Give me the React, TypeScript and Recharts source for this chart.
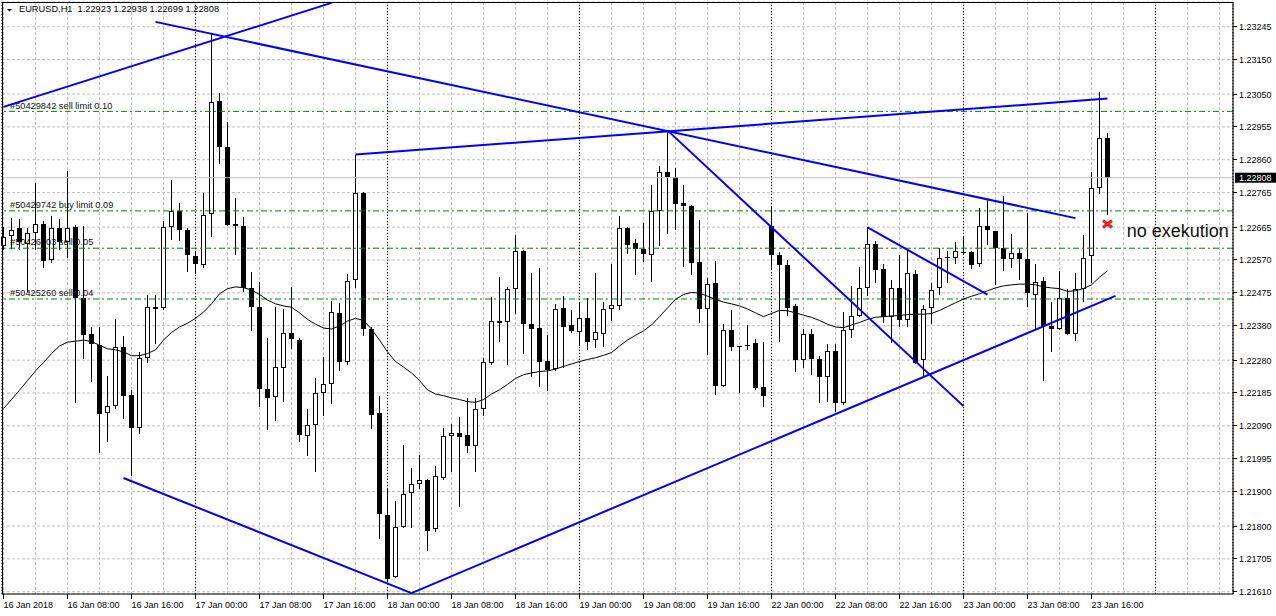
import React from "react";
import {
  ComposedChart,
  Bar,
  Line,
  XAxis,
  YAxis,
  CartesianGrid,
  ReferenceLine,
  ReferenceDot,
} from "recharts";

// EURUSD H1, one bar per hour from 16 Jan 2018 00:00 (index 0) to 23 Jan 18:00 (index 138)
const opens = [
  1.22611, 1.22638, 1.22662, 1.22616, 1.22647, 1.22674, 1.22571, 1.22662, 1.22623, 1.22666,
  1.22459, 1.22356, 1.22324, 1.22127, 1.22147, 1.22318, 1.2218, 1.22083, 1.22285, 1.22435,
  1.2243, 1.22665, 1.22712, 1.22656, 1.22581, 1.22555, 1.22703, 1.23029, 1.22898, 1.22674,
  1.22667, 1.2249, 1.22435, 1.22196, 1.22173, 1.22256, 1.2236, 1.22339, 1.22061, 1.22091,
  1.22185, 1.22211, 1.22417, 1.22276, 1.22511, 1.22764, 1.2237, 1.22127, 1.21832, 1.21653,
  1.21797, 1.21895, 1.21923, 1.21933, 1.21792, 1.21939, 1.22061, 1.22068, 1.22063, 1.22033,
  1.22138, 1.22273, 1.22393, 1.2239, 1.22485, 1.22597, 1.22384, 1.22373, 1.22279, 1.22254,
  1.22431, 1.22382, 1.22362, 1.22401, 1.22338, 1.22357, 1.22428, 1.22437, 1.22662, 1.2262,
  1.22603, 1.22584, 1.22711, 1.22824, 1.2281, 1.22734, 1.22727, 1.22564, 1.22428, 1.22503,
  1.22205, 1.22368, 1.22321, 1.22324, 1.2233, 1.22202, 1.22669, 1.22584, 1.22555, 1.22437,
  1.2228, 1.22357, 1.22282, 1.2223, 1.22307, 1.22155, 1.22368, 1.22409, 1.2249, 1.22617,
  1.22544, 1.22406, 1.22489, 1.22395, 1.22529, 1.2228, 1.22431, 1.22489, 1.22578, 1.22577,
  1.22594, 1.22592, 1.22557, 1.22667, 1.22653, 1.22605, 1.22572, 1.2259, 1.22572, 1.2247,
  1.22509, 1.22378, 1.2237, 1.22459, 1.22357, 1.22487, 1.22581, 1.22778, 1.22923,
];
const highs = [
  1.22666, 1.22691, 1.22688, 1.22662, 1.22792, 1.22684, 1.22698, 1.22688, 1.22827, 1.22671,
  1.22669, 1.22376, 1.22376, 1.22234, 1.22398, 1.22351, 1.22194, 1.22304, 1.22468, 1.2247,
  1.22684, 1.22802, 1.22736, 1.22662, 1.22592, 1.22764, 1.23223, 1.23053, 1.22968, 1.22749,
  1.22695, 1.22534, 1.22506, 1.22345, 1.22433, 1.22428, 1.22492, 1.22345, 1.22138, 1.22227,
  1.2229, 1.22451, 1.22445, 1.22528, 1.22875, 1.22768, 1.22376, 1.22175, 1.21909, 1.21872,
  1.22035, 1.21967, 1.22006, 1.21936, 1.21974, 1.22083, 1.22094, 1.22116, 1.22171, 1.22171,
  1.22287, 1.22463, 1.2252, 1.22492, 1.22642, 1.226, 1.22533, 1.22548, 1.22354, 1.22443,
  1.22465, 1.22426, 1.22448, 1.22459, 1.22533, 1.22448, 1.22559, 1.22697, 1.22664, 1.22631,
  1.22677, 1.22788, 1.22843, 1.22946, 1.22835, 1.22788, 1.22729, 1.22686, 1.22518, 1.22566,
  1.22384, 1.22426, 1.22322, 1.22382, 1.22341, 1.22334, 1.22725, 1.22592, 1.2257, 1.22443,
  1.2237, 1.2237, 1.22293, 1.22326, 1.22326, 1.2242, 1.22495, 1.2255, 1.22664, 1.22625,
  1.22559, 1.22512, 1.22583, 1.22601, 1.22542, 1.22439, 1.22503, 1.22605, 1.22595, 1.22623,
  1.22638, 1.22595, 1.22719, 1.22747, 1.22655, 1.22755, 1.22645, 1.22603, 1.22706, 1.22559,
  1.2252, 1.22448, 1.22539, 1.22487, 1.22531, 1.22642, 1.22824, 1.23057, 1.22938,
];
const lows = [
  1.22599, 1.22603, 1.22599, 1.22477, 1.22599, 1.22546, 1.2256, 1.22599, 1.22575, 1.22155,
  1.22282, 1.22216, 1.22011, 1.22042, 1.22138, 1.22111, 1.21945, 1.22066, 1.22271, 1.22327,
  1.22424, 1.22628, 1.22625, 1.22534, 1.22528, 1.22548, 1.22636, 1.22847, 1.22669, 1.22583,
  1.22476, 1.22365, 1.22144, 1.22077, 1.22105, 1.22158, 1.22313, 1.22044, 1.22003, 1.21956,
  1.22118, 1.22153, 1.22249, 1.22265, 1.2249, 1.22349, 1.22081, 1.21762, 1.2164, 1.21651,
  1.21795, 1.21795, 1.21906, 1.21727, 1.21784, 1.21933, 1.21956, 1.21856, 1.22011, 1.21956,
  1.22118, 1.22265, 1.22334, 1.22265, 1.22413, 1.22299, 1.22232, 1.22201, 1.22191, 1.22249,
  1.22258, 1.22359, 1.22321, 1.2231, 1.22315, 1.22318, 1.22393, 1.22426, 1.22586, 1.22526,
  1.22564, 1.22507, 1.22611, 1.22644, 1.22658, 1.22551, 1.22526, 1.22387, 1.22296, 1.22179,
  1.22201, 1.22307, 1.22185, 1.2231, 1.22193, 1.22144, 1.22542, 1.22332, 1.22409, 1.22245,
  1.22258, 1.22238, 1.22155, 1.2216, 1.22129, 1.22149, 1.22343, 1.22404, 1.22467, 1.22503,
  1.22387, 1.22329, 1.22376, 1.22376, 1.22269, 1.22234, 1.22384, 1.22468, 1.22503, 1.22559,
  1.22583, 1.22544, 1.22551, 1.22614, 1.22498, 1.22539, 1.22548, 1.22511, 1.22433, 1.2237,
  1.22221, 1.22304, 1.22368, 1.22354, 1.22335, 1.22448, 1.22503, 1.22761, 1.22699,
];
const closes = [
  1.22637, 1.22658, 1.22623, 1.22649, 1.22673, 1.22568, 1.22662, 1.22623, 1.22662, 1.22459,
  1.22352, 1.22326, 1.22124, 1.22147, 1.22318, 1.22177, 1.22083, 1.22285, 1.22434, 1.22428,
  1.22665, 1.22712, 1.22658, 1.22584, 1.22557, 1.22699, 1.23026, 1.22898, 1.22671, 1.22667,
  1.2249, 1.22434, 1.22196, 1.22171, 1.2226, 1.2236, 1.22341, 1.22063, 1.22091, 1.22186,
  1.22211, 1.2242, 1.22276, 1.22509, 1.22764, 1.22371, 1.22122, 1.21834, 1.21646, 1.21797,
  1.21893, 1.21923, 1.21933, 1.21787, 1.21945, 1.22061, 1.22068, 1.22057, 1.22033, 1.22138,
  1.22274, 1.22393, 1.22387, 1.22485, 1.22597, 1.22384, 1.22371, 1.22276, 1.22251, 1.22428,
  1.22376, 1.22364, 1.22401, 1.22334, 1.22362, 1.22428, 1.22439, 1.22662, 1.22614, 1.22601,
  1.22586, 1.22711, 1.22824, 1.2281, 1.22733, 1.22725, 1.22562, 1.22428, 1.225, 1.22205,
  1.22368, 1.22318, 1.22319, 1.22321, 1.22199, 1.22177, 1.22584, 1.22555, 1.22431, 1.2228,
  1.22357, 1.22282, 1.2223, 1.22307, 1.22155, 1.22368, 1.22409, 1.22489, 1.22617, 1.22542,
  1.22404, 1.22489, 1.22395, 1.22533, 1.22273, 1.22428, 1.22484, 1.22575, 1.22576, 1.22595,
  1.22593, 1.22555, 1.22667, 1.22656, 1.22606, 1.22572, 1.22589, 1.22572, 1.22474, 1.22506,
  1.22378, 1.2237, 1.22459, 1.22356, 1.22487, 1.22577, 1.22778, 1.22923, 1.22808,
];
// moving average
const maValues = [
  1.2214, 1.22166, 1.22193, 1.22221, 1.22249, 1.22273, 1.22299, 1.22321, 1.22332, 1.22335,
  1.22338, 1.22334, 1.22323, 1.22313, 1.2231, 1.22304, 1.22293, 1.22293, 1.22299, 1.2231,
  1.22338, 1.2236, 1.22376, 1.22387, 1.22401, 1.22419, 1.22443, 1.22472, 1.22487, 1.22492,
  1.2249, 1.22483, 1.2247, 1.22454, 1.22443, 1.22437, 1.22433, 1.22417, 1.22398, 1.22384,
  1.22373, 1.2237, 1.22379, 1.22393, 1.22401, 1.22395, 1.2237, 1.22338, 1.22304, 1.22276,
  1.2226, 1.22243, 1.22221, 1.22194, 1.22182, 1.22177, 1.22171, 1.22166, 1.2216, 1.22158,
  1.22166, 1.22182, 1.22194, 1.2221, 1.22227, 1.22238, 1.22243, 1.22247, 1.22249, 1.22254,
  1.22262, 1.22269, 1.22276, 1.22282, 1.22287, 1.22294, 1.22302, 1.22321, 1.22338, 1.22352,
  1.22365, 1.22382, 1.22406, 1.22431, 1.22456, 1.2247, 1.22476, 1.22474, 1.22465, 1.22456,
  1.22448, 1.22443, 1.22437, 1.22428, 1.22417, 1.22406, 1.22415, 1.22424, 1.22423, 1.22417,
  1.2241, 1.22404, 1.22395, 1.22384, 1.22376, 1.22374, 1.22382, 1.22389, 1.22398, 1.22404,
  1.22406, 1.22408, 1.22409, 1.22412, 1.22413, 1.22413, 1.22415, 1.22424, 1.22435, 1.22446,
  1.22457, 1.22465, 1.22472, 1.22481, 1.22489, 1.22495, 1.22498, 1.225, 1.225, 1.22498,
  1.22492, 1.22489, 1.22487, 1.22479, 1.22481, 1.22487, 1.22498, 1.2252, 1.22539,
];

const slotCount = 154; // visible hour slots incl. empty space on the right

const timeTickIdx = [0, 8, 16, 24, 32, 40, 48, 56, 64, 72, 80, 88, 96, 104, 112, 120, 128, 136];
const timeTickLabels = [
  "16 Jan 2018", "16 Jan 08:00", "16 Jan 16:00", "17 Jan 00:00", "17 Jan 08:00", "17 Jan 16:00",
  "18 Jan 00:00", "18 Jan 08:00", "18 Jan 16:00", "19 Jan 00:00", "19 Jan 08:00", "19 Jan 16:00",
  "22 Jan 00:00", "22 Jan 08:00", "22 Jan 16:00", "23 Jan 00:00", "23 Jan 08:00", "23 Jan 16:00",
];
// vertical grid every 4 hours
const gridTicks = [
  0, 4, 8, 12, 16, 20, 24, 28, 32, 36, 40, 44, 48, 52, 56, 60, 64, 68, 72, 76, 80, 84, 88, 92,
  96, 100, 104, 108, 112, 116, 120, 124, 128, 132, 136, 140, 144, 148, 152,
];
const daySeparators = [24, 48, 72, 96, 120, 144];
const priceTicks = [
  1.23245, 1.2315, 1.2305, 1.22955, 1.2286, 1.22765, 1.22665, 1.2257, 1.22475, 1.2238, 1.2228,
  1.22185, 1.2209, 1.21995, 1.219, 1.218, 1.21705, 1.2161,
];
const priceDomain = [1.216033, 1.233165];

const orderPrices = [1.23, 1.22712, 1.22604, 1.22457];
const orderTexts = [
  "#50429842 sell limit 0.10",
  "#50429742 buy limit 0.09",
  "#50426003 sell 0.05",
  "#50425260 sell 0.04",
];
const lastPrice = 1.22808;

// [bar1, price1, bar2, price2]
const trendLines = [
  [0, 1.23013, 41, 1.23314],
  [19, 1.23259, 134, 1.22691],
  [44, 1.22875, 138, 1.23037],
  [83, 1.22945, 120, 1.22147],
  [15, 1.21939, 51, 1.21606],
  [51, 1.21606, 139, 1.22466],
  [108, 1.22664, 123, 1.2247],
];
const markBar = 138;
const markPrice = 1.22674;
const noteBar = 140;
const notePrice = 1.22636;
const noteText = "no exekution";

const rows = Array.from({ length: slotCount }, (_, i) => ({
  i,
  o: i < opens.length ? opens[i] : null,
  h: i < highs.length ? highs[i] : null,
  l: i < lows.length ? lows[i] : null,
  c: i < closes.length ? closes[i] : null,
  ma: i < maValues.length ? maValues[i] : null,
}));

const FONT = '"Liberation Sans", Arial, sans-serif';
const PLOT_LEFT = 2;
const PLOT_TOP = 2;
const PLOT_RIGHT = 1233;
const PLOT_BOTTOM = 594;
const BLUE = "#0000ff";
const ORDER_GREEN = "#008000";
const GRID = "#c0c0c0";
const BAND_PAD = { left: -2.5, right: 1.5 };

const Candle = (props: any) => {
  const { x, y, width, height, payload } = props;
  if (!payload || payload.h == null) return null;
  const top = Math.min(y, y + height);
  const bot = Math.max(y, y + height);
  const span = payload.h - payload.l;
  const py = (p: number) => (span > 0 ? top + ((payload.h - p) / span) * (bot - top) : top);
  const cx = x + width / 2;
  const yo = py(payload.o);
  const yc = py(payload.c);
  const bTop = Math.round(Math.min(yo, yc));
  const bBot = Math.round(Math.max(yo, yc));
  const up = payload.c >= payload.o;
  const wickTop = Math.round(top);
  const wickH = Math.max(1, Math.round(bot) - wickTop);
  let body;
  if (bBot - bTop <= 1) {
    body = <rect x={cx - 2.5} y={bTop} width={5} height={1} fill="#000" />;
  } else if (up) {
    body = (
      <rect x={cx - 2} y={bTop + 0.5} width={4} height={bBot - bTop - 1} fill="#fff" stroke="#000" strokeWidth={1} />
    );
  } else {
    body = <rect x={cx - 2.5} y={bTop} width={5} height={bBot - bTop} fill="#000" />;
  }
  return (
    <g shapeRendering="crispEdges">
      <rect x={cx - 0.5} y={wickTop} width={1} height={wickH} fill="#000" />
      {body}
    </g>
  );
};

const TimeTick = (props: any) => {
  const { x, payload } = props;
  const k = timeTickIdx.indexOf(Number(payload.value));
  if (k < 0) return <g />;
  return (
    <g>
      <line x1={x} x2={x} y1={PLOT_BOTTOM} y2={PLOT_BOTTOM + 5} stroke="#000" shapeRendering="crispEdges" />
      <text x={x} y={PLOT_BOTTOM + 14} fontSize={9} fontFamily={FONT} fill="#000">
        {timeTickLabels[k]}
      </text>
    </g>
  );
};

const PriceTick = (props: any) => {
  const { y, payload } = props;
  return (
    <g>
      <line x1={PLOT_RIGHT} x2={PLOT_RIGHT + 4} y1={y} y2={y} stroke="#000" shapeRendering="crispEdges" />
      <text x={PLOT_RIGHT + 6} y={y + 3.5} fontSize={9} fontFamily={FONT} fill="#000">
        {Number(payload.value).toFixed(5)}
      </text>
    </g>
  );
};

const OrderText = (props: any) => {
  const { viewBox, text } = props;
  if (!viewBox) return null;
  return (
    <text x={PLOT_LEFT + 8} y={viewBox.y - 2.8} fontSize={9.25} fontFamily={FONT} fill="#111">
      {text}
    </text>
  );
};

const PriceTag = (props: any) => {
  const { viewBox } = props;
  if (!viewBox) return null;
  const x = PLOT_RIGHT + 2;
  return (
    <g>
      <rect x={x} y={viewBox.y - 5} width={41} height={10} fill="#000" />
      <text x={x + 4} y={viewBox.y + 3.5} fontSize={9} fontFamily={FONT} fill="#fff">
        {lastPrice.toFixed(5)}
      </text>
    </g>
  );
};

const XMark = (props: any) => {
  const { cx, cy } = props;
  return (
    <g stroke="#e8241c" strokeWidth={3}>
      <line x1={cx - 4.5} y1={cy - 3.5} x2={cx + 4.5} y2={cy + 3.5} />
      <line x1={cx - 4.5} y1={cy + 3.5} x2={cx + 4.5} y2={cy - 3.5} />
    </g>
  );
};

const NoteText = (props: any) => {
  const { cx, cy } = props;
  return (
    <text x={cx + 3.2} y={cy} fontSize={18} fontFamily={FONT} fill="#111">
      {noteText}
    </text>
  );
};

const fmt = (v: number) => v.toFixed(5);
const last = opens.length - 1;
const title = `EURUSD,H1  ${fmt(opens[last])} ${fmt(highs[last])} ${fmt(lows[last])} ${fmt(closes[last])}`;

export default function App() {
  return (
    <div style={{ position: "absolute", left: 0, top: 0, width: 1276, height: 616, background: "#fff" }}>
      <ComposedChart
        width={1276}
        height={616}
        data={rows}
        margin={{ top: PLOT_TOP, right: 0, bottom: 0, left: PLOT_LEFT }}
        barCategoryGap={0}
        barGap={0}
      >
        <CartesianGrid stroke={GRID} strokeDasharray="3 2" />
        <CartesianGrid xAxisId="sep" horizontal={false} stroke="#000" strokeDasharray="1 2" />
        <XAxis
          dataKey="i"
          type="category"
          padding={BAND_PAD}
          ticks={gridTicks}
          interval={0}
          height={22}
          axisLine={{ stroke: "#000" }}
          tickLine={false}
          tick={<TimeTick />}
        />
        <XAxis
          xAxisId="sep"
          dataKey="i"
          type="category"
          padding={BAND_PAD}
          ticks={daySeparators}
          interval={0}
          hide
        />
        <YAxis
          orientation="right"
          type="number"
          domain={priceDomain}
          allowDataOverflow
          ticks={priceTicks}
          interval={0}
          width={43}
          axisLine={{ stroke: "#000" }}
          tickLine={false}
          tick={<PriceTick />}
        />
        <ReferenceLine y={lastPrice} stroke={GRID} label={<PriceTag />} />
        {orderPrices.map((p, k) => (
          <ReferenceLine
            key={"o" + k}
            y={p}
            stroke={ORDER_GREEN}
            strokeDasharray="6 3 2 3"
            label={<OrderText text={orderTexts[k]} />}
          />
        ))}
        <Bar
          dataKey={(d: any) => (d.h == null ? null : [d.l, d.h])}
          shape={(p: any) => <Candle {...p} />}
          isAnimationActive={false}
        />
        <Line
          type="linear"
          dataKey="ma"
          stroke="#000"
          strokeWidth={1}
          dot={false}
          activeDot={false}
          isAnimationActive={false}
        />
        {trendLines.map((t, k) => (
          <ReferenceLine
            key={"t" + k}
            segment={[
              { x: t[0], y: t[1] },
              { x: t[2], y: t[3] },
            ]}
            stroke={BLUE}
            strokeWidth={2}
            ifOverflow="visible"
          />
        ))}
        <ReferenceDot x={markBar} y={markPrice} shape={<XMark />} />
        <ReferenceDot x={noteBar} y={notePrice} shape={<NoteText />} />
      </ComposedChart>
      <div
        style={{
          position: "absolute",
          left: PLOT_LEFT,
          top: PLOT_TOP,
          width: PLOT_RIGHT - PLOT_LEFT,
          height: PLOT_BOTTOM - PLOT_TOP,
          borderLeft: "1px solid #000",
          borderTop: "1px solid #000",
          boxSizing: "border-box",
          pointerEvents: "none",
        }}
      />
      <div
        style={{
          position: "absolute",
          left: 19,
          top: 4,
          fontFamily: FONT,
          fontSize: 9.25,
          lineHeight: "11px",
          whiteSpace: "pre",
          color: "#000",
        }}
      >
        {title}
      </div>
      <svg style={{ position: "absolute", left: 0, top: 0 }} width={20} height={20}>
        <polygon points="7,9 12,9 9.5,11.5" fill="#000" />
      </svg>
    </div>
  );
}
